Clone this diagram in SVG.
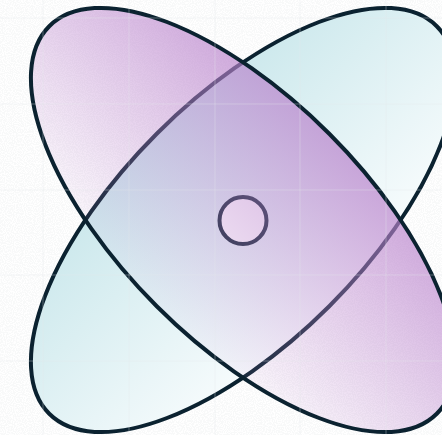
<svg xmlns="http://www.w3.org/2000/svg" width="442" height="435" viewBox="0 0 442 435">
  <defs>
    <linearGradient id="tealGrad" gradientUnits="userSpaceOnUse" x1="243" y1="98" x2="243" y2="342">
      <stop offset="0" stop-color="#cbe8ec"/>
      <stop offset="1" stop-color="#f8fcfd"/>
    </linearGradient>
    <linearGradient id="purpleGrad" gradientUnits="userSpaceOnUse" x1="243" y1="98" x2="243" y2="342">
      <stop offset="0" stop-color="#b982cc" stop-opacity="0.7"/>
      <stop offset="1" stop-color="#c08ad0" stop-opacity="0.06"/>
    </linearGradient>
    <filter id="noise" x="0" y="0" width="100%" height="100%">
      <feTurbulence type="fractalNoise" baseFrequency="0.9" numOctaves="1" seed="3" result="n"/>
      <feColorMatrix type="matrix" values="0 0 0 0 0.55  0 0 0 0 0.58  0 0 0 0 0.62  0 0 0 -9 5.2" />
    </filter>
    <style>
      .outline { stroke: #0b2230; stroke-width: 4; }
      .grid line { stroke: #e3e7ea; stroke-width: 1; opacity: 0.35; }
    </style>
  </defs>

  <rect width="442" height="435" fill="#ffffff"/>
  <rect width="442" height="435" filter="url(#noise)" opacity="0.1"/>

  <g id="teal-orbit">
    <ellipse cx="243" cy="220" rx="274" ry="122" transform="rotate(-45 243 220)" fill="url(#tealGrad)" class="outline"/>
  </g>

  <g id="nucleus">
    <circle cx="243" cy="220.5" r="23.5" fill="#ffffff" class="outline"/>
  </g>

  <g id="purple-orbit">
    <ellipse cx="243" cy="220" rx="274" ry="122" transform="rotate(45 243 220)" fill="url(#purpleGrad)"/>
    <ellipse cx="243" cy="220" rx="274" ry="122" transform="rotate(45 243 220)" fill="none" class="outline"/>
  </g>

  <g class="grid">
    <line x1="43" y1="0" x2="43" y2="435"/>
    <line x1="129" y1="0" x2="129" y2="435"/>
    <line x1="215" y1="0" x2="215" y2="435"/>
    <line x1="300" y1="0" x2="300" y2="435"/>
    <line x1="386" y1="0" x2="386" y2="435"/>
    <line x1="0" y1="18" x2="442" y2="18"/>
    <line x1="0" y1="104" x2="442" y2="104"/>
    <line x1="0" y1="190" x2="442" y2="190"/>
    <line x1="0" y1="275" x2="442" y2="275"/>
    <line x1="0" y1="361" x2="442" y2="361"/>
  </g>
</svg>
